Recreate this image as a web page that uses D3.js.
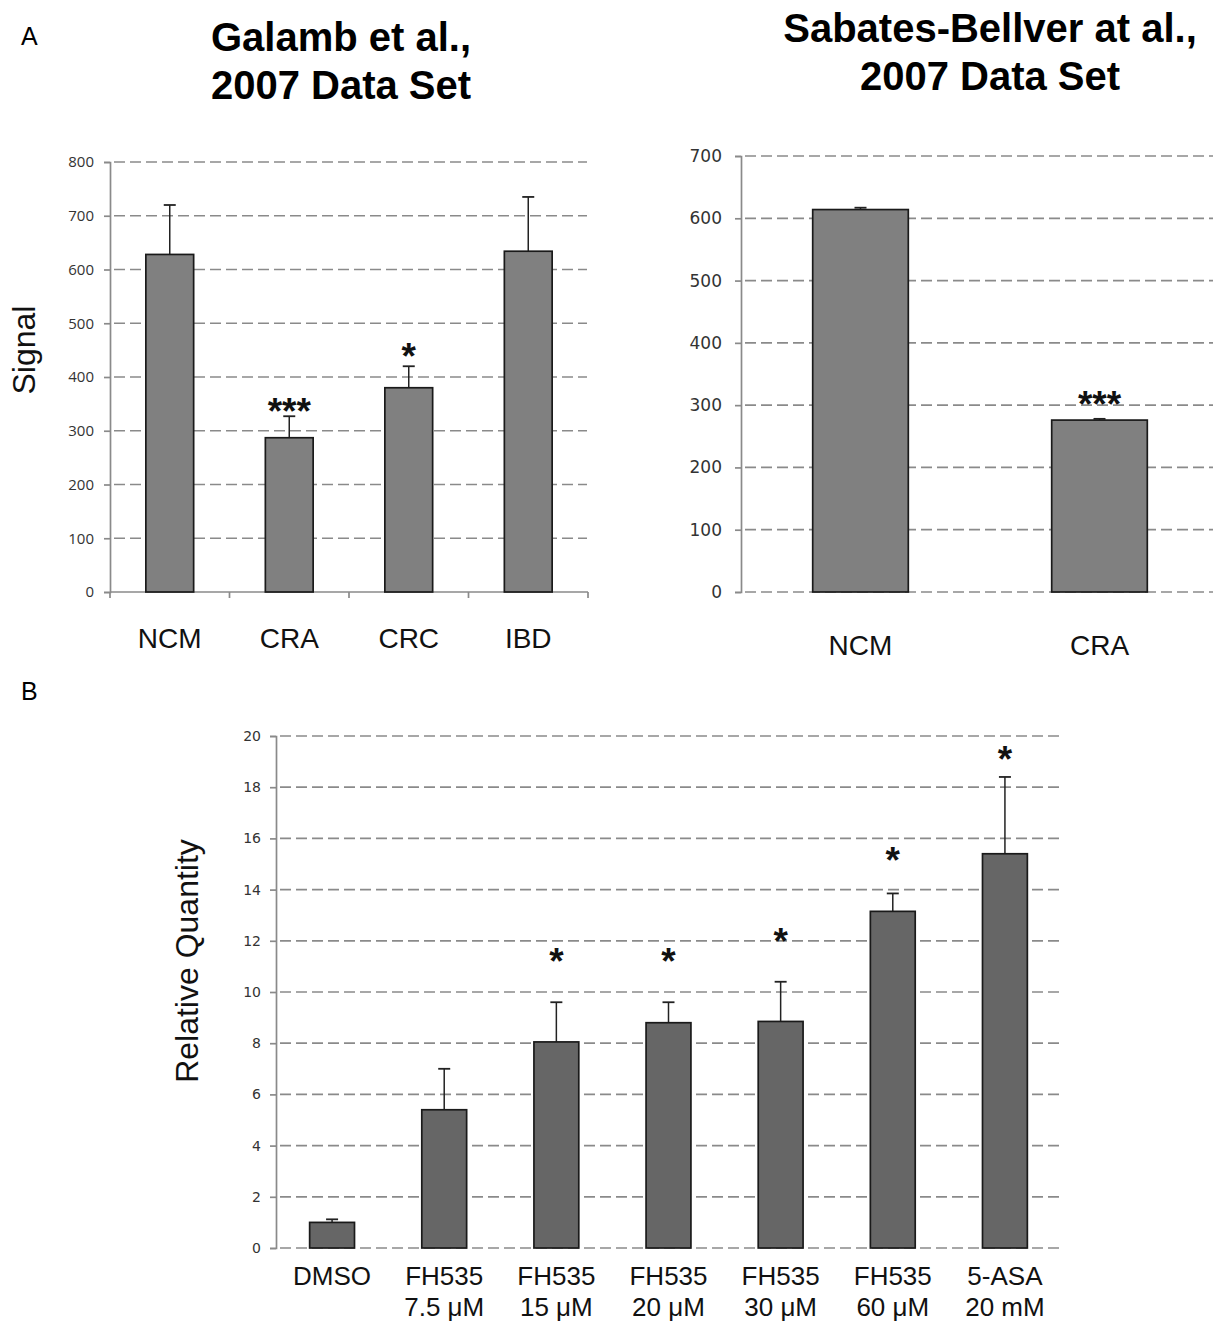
<!DOCTYPE html>
<html>
<head>
<meta charset="utf-8">
<script src="https://cdn.jsdelivr.net/npm/d3@7"></script>
<style>
  body { margin: 0; background: #fff; }
  svg { display: block; }
</style>
</head>
<body>
<svg id="fig" width="1213" height="1323"></svg>
<script>
// panel A, left: Galamb et al.
var galambCats = ["NCM", "CRA", "CRC", "IBD"],
	galambMeans = [628, 287, 380, 634],
	galambErr = [92, 40, 40, 101],
	galambStars = ["", "***", "*", ""],
	galambStarAt = [0, 352, 454, 0],
	galambTicks = [0, 100, 200, 300, 400, 500, 600, 700, 800];

// panel A, right: Sabates-Bellver et al.
var sabatesCats = ["NCM", "CRA"],
	sabatesMeans = [614, 276],
	sabatesErr = [3, 2],
	sabatesStars = ["", "***"],
	sabatesStarAt = [0, 316],
	sabatesTicks = [0, 100, 200, 300, 400, 500, 600, 700];

// panel B: qPCR
var qCats = [["DMSO"], ["FH535", "7.5 μM"], ["FH535", "15 μM"], ["FH535", "20 μM"],
		["FH535", "30 μM"], ["FH535", "60 μM"], ["5-ASA", "20 mM"]],
	qMeans = [1.0, 5.4, 8.05, 8.8, 8.85, 13.15, 15.4],
	qErr = [0.12, 1.6, 1.55, 0.8, 1.55, 0.7, 3.0],
	qStars = ["", "", "*", "*", "*", "*", "*"],
	qStarAt = [0, 0, 11.56, 11.56, 12.34, 15.47, 19.45],
	qTicks = [0, 2, 4, 6, 8, 10, 12, 14, 16, 18, 20];

var svg = d3.select("#fig");
var gridColor = "#8a8a8a";
var arial = "Liberation Sans, Arial, sans-serif";

function panel(o) {
	var x = d3.scaleBand()
		.domain(d3.range(o.cats.length))
		.range([o.x0, o.x1])
		.paddingInner(0.6)
		.paddingOuter(0.3);
	var y = d3.scaleLinear().domain([0, o.max]).range([o.y0, o.y1]);
	var g = svg.append("g");

	// dashed grid
	g.selectAll("line.grid")
		.data(o.ticks.filter(function(t) { return o.zeroDashed || t > 0; }))
		.enter().append("line")
		.attr("class", "grid")
		.attr("x1", o.x0 + 4).attr("x2", o.gridEnd)
		.attr("y1", function(d) { return y(d); })
		.attr("y2", function(d) { return y(d); })
		.attr("stroke", gridColor)
		.attr("stroke-width", 1.7)
		.attr("stroke-dasharray", "11,5");

	// left axis
	var ax = g.append("g")
		.attr("transform", "translate(" + o.x0 + ",0)")
		.call(d3.axisLeft(y).tickValues(o.ticks).tickSize(6).tickPadding(o.tickPad));
	ax.select(".domain").attr("stroke", gridColor).attr("stroke-width", 1.7);
	ax.selectAll(".tick line").attr("stroke", gridColor).attr("stroke-width", 1.7);
	ax.selectAll(".tick text")
		.attr("font-family", o.tickFont)
		.attr("font-size", o.tickSize)
		.attr("fill", "#333");

	// bottom axis (solid, ticks between categories)
	if (o.bottomAxis) {
		g.append("line")
			.attr("x1", o.x0).attr("x2", o.x1)
			.attr("y1", y(0)).attr("y2", y(0))
			.attr("stroke", gridColor).attr("stroke-width", 1.7);
		g.selectAll("line.sep")
			.data(d3.range(o.cats.length + 1))
			.enter().append("line")
			.attr("x1", function(i) { return o.x0 + i * x.step(); })
			.attr("x2", function(i) { return o.x0 + i * x.step(); })
			.attr("y1", y(0)).attr("y2", y(0) + 6)
			.attr("stroke", gridColor).attr("stroke-width", 1.7);
	}

	// error bars (upper whisker)
	var cap = 6;
	o.means.forEach(function(m, i) {
		var cx = x(i) + x.bandwidth() / 2;
		g.append("line")
			.attr("x1", cx).attr("x2", cx)
			.attr("y1", y(m)).attr("y2", y(m + o.err[i]))
			.attr("stroke", "#222").attr("stroke-width", 1.5);
		g.append("line")
			.attr("x1", cx - cap).attr("x2", cx + cap)
			.attr("y1", y(m + o.err[i])).attr("y2", y(m + o.err[i]))
			.attr("stroke", "#222").attr("stroke-width", 1.8);
	});

	// bars
	g.selectAll("rect.bar")
		.data(o.means)
		.enter().append("rect")
		.attr("class", "bar")
		.attr("x", function(d, i) { return x(i); })
		.attr("y", function(d) { return y(d); })
		.attr("width", x.bandwidth())
		.attr("height", function(d) { return y(0) - y(d); })
		.attr("fill", o.barColor)
		.attr("stroke", "#1a1a1a")
		.attr("stroke-width", 1.7);

	// significance stars
	g.selectAll("text.star")
		.data(o.stars)
		.enter().append("text")
		.attr("x", function(d, i) { return x(i) + x.bandwidth() / 2; })
		.attr("y", function(d, i) { return y(o.starAt[i]) + o.starSize * 0.58; })
		.attr("text-anchor", "middle")
		.attr("font-family", arial)
		.attr("font-weight", "bold")
		.attr("font-size", o.starSize)
		.attr("fill", "#111")
		.text(function(d) { return d; });

	// category labels
	o.cats.forEach(function(c, i) {
		var lines = Array.isArray(c) ? c : [c];
		var t = g.append("text")
			.attr("text-anchor", "middle")
			.attr("font-family", arial)
			.attr("font-size", o.catSize)
			.attr("fill", "#111");
		lines.forEach(function(s, k) {
			t.append("tspan")
				.attr("x", x(i) + x.bandwidth() / 2)
				.attr("y", o.catY + k * o.catLine)
				.text(s);
		});
	});
}

panel({cats: galambCats, means: galambMeans, err: galambErr, stars: galambStars, starAt: galambStarAt,
	ticks: galambTicks, max: 800, x0: 110, x1: 588, gridEnd: 587, y0: 592, y1: 162,
	tickFont: "Open Sans, sans-serif", tickSize: 15, tickPad: 10, bottomAxis: true, zeroDashed: false,
	barColor: "#808080", starSize: 37, catSize: 28, catY: 648, catLine: 0});

panel({cats: sabatesCats, means: sabatesMeans, err: sabatesErr, stars: sabatesStars, starAt: sabatesStarAt,
	ticks: sabatesTicks, max: 700, x0: 741, x1: 1219, gridEnd: 1213, y0: 592, y1: 156,
	tickFont: "DejaVu Sans, Verdana, sans-serif", tickSize: 17, tickPad: 13, bottomAxis: false, zeroDashed: true,
	barColor: "#808080", starSize: 37, catSize: 28, catY: 655, catLine: 0});

panel({cats: qCats, means: qMeans, err: qErr, stars: qStars, starAt: qStarAt,
	ticks: qTicks, max: 20, x0: 276, x1: 1061, gridEnd: 1060, y0: 1248, y1: 736,
	tickFont: "DejaVu Sans, Verdana, sans-serif", tickSize: 14, tickPad: 9, bottomAxis: false, zeroDashed: true,
	barColor: "#666666", starSize: 37, catSize: 26, catY: 1285, catLine: 31});

// axis titles
svg.append("text")
	.attr("transform", "translate(35,350) rotate(-90)")
	.attr("text-anchor", "middle")
	.attr("font-family", arial)
	.attr("font-size", 32).attr("fill", "#111")
	.text("Signal");

svg.append("text")
	.attr("transform", "translate(198,961) rotate(-90)")
	.attr("text-anchor", "middle")
	.attr("font-family", arial)
	.attr("font-size", 32).attr("fill", "#111")
	.text("Relative Quantity");

// panel titles
function title(cx, y, lines) {
	var t = svg.append("text")
		.attr("text-anchor", "middle")
		.attr("font-family", arial)
		.attr("font-weight", "bold")
		.attr("font-size", 40)
		.attr("fill", "#000");
	lines.forEach(function(s, k) {
		t.append("tspan").attr("x", cx).attr("y", y + k * 48).text(s);
	});
}
title(341, 51, ["Galamb et al.,", "2007 Data Set"]);
title(990, 42, ["Sabates-Bellver at al.,", "2007 Data Set"]);

// panel letters
svg.append("text").attr("x", 21).attr("y", 45)
	.attr("font-family", arial)
	.attr("font-size", 25).attr("fill", "#000").text("A");
svg.append("text").attr("x", 21).attr("y", 700)
	.attr("font-family", arial)
	.attr("font-size", 25).attr("fill", "#000").text("B");
</script>
</body>
</html>
